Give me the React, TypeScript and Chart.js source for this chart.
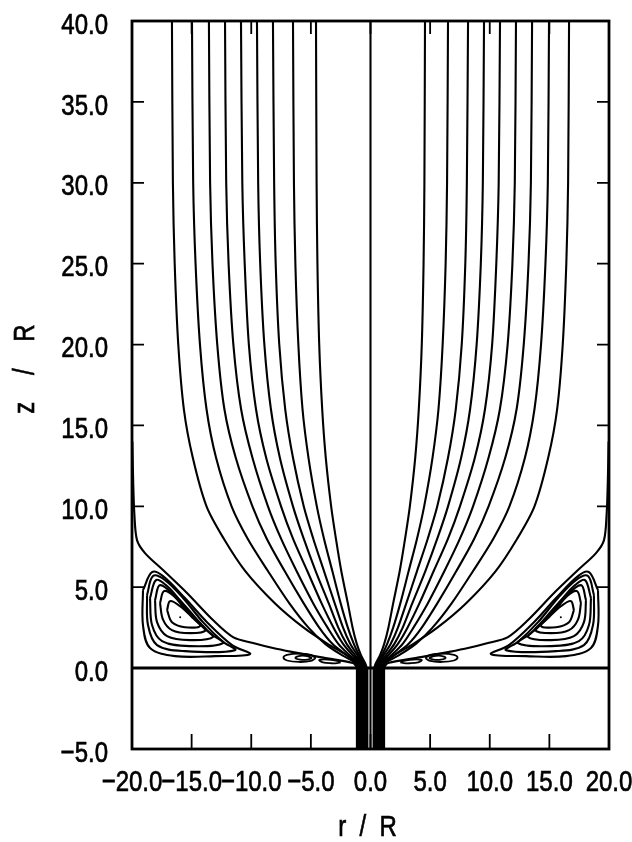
import React, { useEffect, useRef } from "react";
import { Chart, registerables } from "chart.js";

Chart.register(...registerables);

// Axis ticks
const xTickValues = [-20, -15, -10, -5, 0, 5, 10, 15, 20];
const yTickValues = [-5, 0, 5, 10, 15, 20, 25, 30, 35, 40];
const xTitle = "r  /  R";
const yTitle = "z    /    R";

// Heights z/R at which every field line is sampled, from the top down to the z = 0 plane
const zLevels = [40, 30, 25, 20, 16, 13, 10, 8, 6, 4, 2.5, 1.5, 0.8, 0.3, 0];
const stemBottom = -5;

// Radii r/R of the field lines on the r > 0 side, one per z level (mirrored for r < 0)
const fieldLine1 = [4.57, 4.52, 4.45, 4.3, 4.05, 3.75, 3.3, 2.9, 2.45, 1.9, 1.5, 1.15, 0.8, 0.45, 0.3];
const fieldLine2 = [6.5, 6.42, 6.3, 6.05, 5.7, 5.2, 4.5, 3.9, 3.2, 2.5, 1.9, 1.4, 0.95, 0.55, 0.4];
const fieldLine3 = [8.18, 8.08, 7.95, 7.65, 7.15, 6.5, 5.6, 4.8, 3.9, 3.0, 2.3, 1.7, 1.1, 0.65, 0.5];
const fieldLine4 = [9.52, 9.42, 9.25, 8.9, 8.35, 7.6, 6.5, 5.6, 4.6, 3.5, 2.7, 2.0, 1.3, 0.75, 0.6];
const fieldLine5 = [10.86, 10.75, 10.55, 10.2, 9.6, 8.75, 7.5, 6.5, 5.3, 4.1, 3.1, 2.3, 1.5, 0.85, 0.7];
const fieldLine6 = [12.2, 12.1, 11.9, 11.5, 10.85, 9.9, 8.6, 7.5, 6.2, 4.8, 3.6, 2.7, 1.75, 0.95, 0.8];
const fieldLine7 = [13.55, 13.45, 13.25, 12.85, 12.25, 11.3, 9.9, 8.7, 7.2, 5.6, 4.3, 3.2, 2.0, 1.05, 0.9];
const fieldLine8 = [14.97, 14.87, 14.67, 14.3, 13.75, 12.95, 11.65, 10.3, 8.6, 6.8, 5.2, 3.8, 2.4, 1.2, 1.0];
const fieldLine9 = [16.65, 16.57, 16.42, 16.12, 15.65, 14.9, 13.75, 12.3, 10.5, 8.0, 5.6, 3.6, 2.0, 1.2, 1.1];

// Separatrix running down the wall and into the stem corner, [r, z]
const separatrix: [number, number][] = [
  [19.97, 14.0], [19.9, 11.5], [19.8, 9.5], [19.58, 7.91], [18.91, 7.11], [17.4, 6.06],
  [15.39, 4.64], [13.21, 2.97], [11.53, 1.92], [9.85, 1.55], [8.18, 1.24], [6.5, 0.99],
  [4.23, 0.68], [1.47, 0.31], [1.1, 0.02],
];

// Closed stream lines of the corner vortex, outermost first, [r, z]
const vortexLoop1: [number, number][] = [
  [19.08, 4.82], [19.08, 2.66], [18.49, 1.24], [16.39, 0.74], [13.04, 0.74], [10.1, 0.87],
  [11.61, 1.42], [13.71, 2.84], [15.56, 4.33], [17.4, 5.69], [18.32, 5.93], [19.08, 4.82],
];
const vortexLoop2: [number, number][] = [
  [18.74, 4.51], [18.66, 2.66], [17.9, 1.42], [15.56, 1.05], [11.36, 1.11], [12.45, 1.67],
  [14.05, 2.84], [15.72, 4.33], [17.23, 5.44], [18.24, 5.69], [18.74, 4.51],
];
const vortexLoop3: [number, number][] = [
  [18.49, 4.33], [18.32, 2.66], [17.48, 1.67], [15.14, 1.36], [12.37, 1.55], [13.46, 2.16],
  [14.72, 3.15], [15.97, 4.2], [17.15, 5.13], [17.99, 5.44], [18.49, 4.33],
];
const vortexLoop4: [number, number][] = [
  [18.07, 4.2], [17.9, 2.84], [17.06, 1.98], [15.14, 1.73], [13.21, 1.92], [14.05, 2.53],
  [15.14, 3.4], [16.22, 4.33], [17.65, 5.13], [18.07, 4.2],
];
const vortexLoop5: [number, number][] = [
  [17.65, 4.02], [17.4, 3.0], [16.65, 2.35], [15.14, 2.16], [13.8, 2.35], [14.55, 2.9],
  [15.56, 3.65], [16.48, 4.45], [17.32, 4.76], [17.65, 4.02],
];
const vortexLoop6: [number, number][] = [
  [17.06, 3.58], [16.65, 2.84], [15.56, 2.53], [14.3, 2.6], [14.97, 3.15], [15.97, 3.83],
  [16.81, 4.14], [17.06, 3.58],
];
const vortexCentre: [number, number] = [15.96, 3.15];

// Small eddies sitting under the separatrix near the stem, [r, z]
const eddy1: [number, number][] = [
  [4.6, 0.62], [5.0, 0.82], [6.0, 0.9], [7.0, 0.82], [7.3, 0.65], [7.0, 0.47], [6.0, 0.38], [5.0, 0.44], [4.6, 0.62],
];
const eddy2: [number, number][] = [
  [4.9, 0.62], [5.3, 0.74], [5.9, 0.76], [6.3, 0.64], [5.9, 0.52], [5.3, 0.52], [4.9, 0.62],
];
const eddy3: [number, number][] = [
  [2.5, 0.36], [2.9, 0.46], [3.6, 0.53], [4.3, 0.5], [4.0, 0.36], [3.3, 0.3], [2.8, 0.31], [2.5, 0.36],
];

const fieldLines = [
  fieldLine1, fieldLine2, fieldLine3, fieldLine4, fieldLine5,
  fieldLine6, fieldLine7, fieldLine8, fieldLine9,
];
const vortexLoops = [vortexLoop1, vortexLoop2, vortexLoop3, vortexLoop4, vortexLoop5, vortexLoop6];
const eddies = [eddy1, eddy2, eddy3];

const FONT = "30px 'Liberation Sans', Arial, Helvetica, sans-serif";
const TEXT_SQUEEZE = 0.8; // condensed lettering
const CAP_HALF = 10.7;
const LINE_W = 2.1;

function formatTick(v: number): string {
  return Number(v).toFixed(1).replace("-", "\u2212");
}

function curve(points: [number, number][], width = LINE_W, tension = 0.3) {
  return {
    data: points.map(([x, y]) => ({ x, y })),
    showLine: true,
    borderColor: "#000",
    backgroundColor: "#000",
    borderWidth: width,
    pointRadius: 0,
    tension,
    fill: false,
  };
}

function mirror(points: [number, number][]): [number, number][] {
  return points.map(([r, z]) => [-r, z]);
}

function squeezedText(ctx: CanvasRenderingContext2D, text: string, x: number, y: number, align: CanvasTextAlign, angle = 0) {
  ctx.save();
  ctx.translate(x, y);
  if (angle) ctx.rotate(angle);
  ctx.scale(TEXT_SQUEEZE, 1);
  ctx.textAlign = align;
  ctx.textBaseline = "alphabetic";
  ctx.fillText(text, 0, CAP_HALF);
  ctx.lineWidth = 0.7;
  ctx.strokeText(text, 0, CAP_HALF);
  ctx.restore();
}

const framePlugin = {
  id: "frameTicksLabels",
  afterDatasetsDraw(chart: any) {
    const { ctx, chartArea: a, scales } = chart;
    ctx.save();
    ctx.strokeStyle = "#000";
    ctx.lineWidth = 1.8;
    ctx.beginPath();
    for (const v of yTickValues) {
      if (v === yTickValues[0] || v === yTickValues[yTickValues.length - 1]) continue;
      const y = scales.y.getPixelForValue(v);
      ctx.moveTo(a.left, y);
      ctx.lineTo(a.left + 12, y);
      ctx.moveTo(a.right, y);
      ctx.lineTo(a.right - 12, y);
    }
    for (const v of xTickValues) {
      if (v === xTickValues[0] || v === xTickValues[xTickValues.length - 1]) continue;
      const x = scales.x.getPixelForValue(v);
      ctx.moveTo(x, a.top);
      ctx.lineTo(x, a.top + 13);
      ctx.moveTo(x, a.bottom);
      ctx.lineTo(x, a.bottom - 15);
    }
    ctx.stroke();
    ctx.lineWidth = 2.8;
    ctx.strokeRect(a.left, a.top, a.right - a.left, a.bottom - a.top);

    // tick labels and axis titles
    ctx.fillStyle = "#000";
    ctx.strokeStyle = "#000";
    ctx.font = FONT;
    for (const v of yTickValues) {
      squeezedText(ctx, formatTick(v), a.left - 24, scales.y.getPixelForValue(v) + 2, "right");
    }
    for (const v of xTickValues) {
      squeezedText(ctx, formatTick(v), scales.x.getPixelForValue(v), a.bottom + 31, "center");
    }
    squeezedText(ctx, xTitle, (a.left + a.right) / 2 - 3, a.bottom + 76, "center");
    squeezedText(ctx, yTitle, 23, 369, "center", -Math.PI / 2);
    ctx.restore();
  },
};

export default function App() {
  const canvasRef = useRef<HTMLCanvasElement | null>(null);

  useEffect(() => {
    document.body.style.margin = "0";
    const canvas = canvasRef.current;
    if (!canvas) return;

    const datasets: any[] = [];
    // axis of symmetry and the z = 0 plane
    datasets.push(curve([[0, stemBottom], [0, zLevels[0]]], LINE_W, 0));
    datasets.push(curve([[xTickValues[0], 0], [xTickValues[xTickValues.length - 1], 0]], 3, 0));

    for (const line of fieldLines) {
      const right: [number, number][] = zLevels.map((z, i) => [line[i], z]);
      datasets.push(curve(right, LINE_W, 0.3));
      datasets.push(curve(mirror(right), LINE_W, 0.3));
      // the line carries on straight down the stem
      const foot = line[line.length - 1];
      const stem: [number, number][] = [[foot, 0], [foot, stemBottom]];
      datasets.push(curve(stem, 3, 0));
      datasets.push(curve(mirror(stem), 3, 0));
    }
    datasets.push(curve(separatrix, LINE_W, 0.3));
    datasets.push(curve(mirror(separatrix), LINE_W, 0.3));
    for (const loop of vortexLoops) {
      datasets.push(curve(loop, LINE_W, 0.35));
      datasets.push(curve(mirror(loop), LINE_W, 0.35));
    }
    for (const loop of eddies) {
      datasets.push(curve(loop, 1.8, 0.35));
      datasets.push(curve(mirror(loop), 1.8, 0.35));
    }
    const centres = [vortexCentre, [-vortexCentre[0], vortexCentre[1]]];
    datasets.push({
      data: centres.map(([x, y]) => ({ x, y })),
      showLine: false,
      pointRadius: 1,
      pointBackgroundColor: "#000",
      pointBorderWidth: 0,
    });

    const chart = new Chart(canvas, {
      type: "scatter",
      data: { datasets },
      options: {
        animation: false,
        responsive: false,
        maintainAspectRatio: false,
        events: [],
        layout: { padding: { top: 21, right: 23, left: 0, bottom: 0 } },
        plugins: { legend: { display: false }, tooltip: { enabled: false } },
        scales: {
          x: {
            type: "linear",
            min: xTickValues[0],
            max: xTickValues[xTickValues.length - 1],
            afterFit: (scale: any) => {
              scale.height = 93;
            },
            grid: { display: false, drawTicks: false },
            border: { display: false },
            ticks: { display: false },
          },
          y: {
            type: "linear",
            min: yTickValues[0],
            max: yTickValues[yTickValues.length - 1],
            afterFit: (scale: any) => {
              scale.width = 132;
            },
            grid: { display: false, drawTicks: false },
            border: { display: false },
            ticks: { display: false },
          },
        },
      },
      plugins: [framePlugin],
    });

    return () => {
      chart.destroy();
    };
  }, []);

  return (
    <div style={{ width: 632, height: 842, background: "#fff" }}>
      <canvas ref={canvasRef} width={632} height={842} style={{ display: "block" }} />
    </div>
  );
}
